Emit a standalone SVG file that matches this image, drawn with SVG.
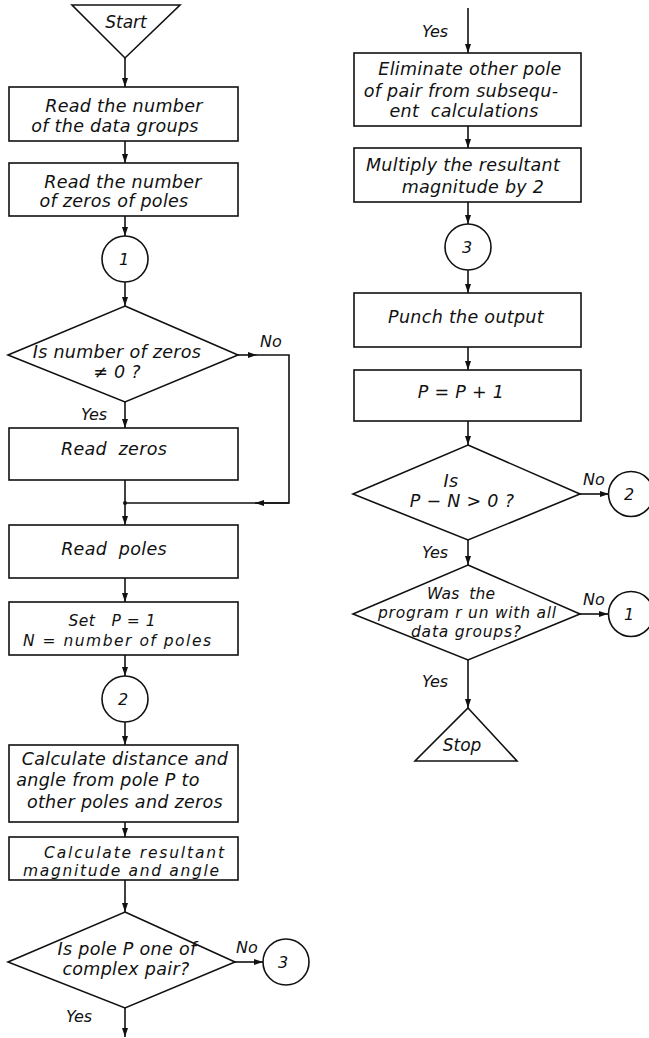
<svg xmlns="http://www.w3.org/2000/svg" width="649" height="1038" viewBox="0 0 649 1038">
<defs>
<style>
.s{fill:#fff;stroke:#111;stroke-width:1.6}
.t{font-family:"DejaVu Sans","Liberation Sans",sans-serif;font-style:italic;font-size:17.5px;letter-spacing:0.3px;fill:#111;text-anchor:middle}
.tt{font-family:"DejaVu Sans","Liberation Sans",sans-serif;font-style:italic;font-size:15.5px;fill:#111;text-anchor:middle}
.l{font-family:"DejaVu Sans","Liberation Sans",sans-serif;font-style:italic;font-size:16px;fill:#111;text-anchor:middle}
.c{fill:none;stroke:#111;stroke-width:1.6}
</style>
<marker id="a" viewBox="0 0 9 6" refX="9" refY="3" markerWidth="9" markerHeight="6" markerUnits="userSpaceOnUse" orient="auto">
<path d="M0,0 L9,3 L0,6 z" fill="#111"/>
</marker>
</defs>
<rect width="649" height="1038" fill="#fff"/>

<g id="connectors">
<path class="c" d="M125,58 V87" marker-end="url(#a)"/>
<path class="c" d="M125,141 V163" marker-end="url(#a)"/>
<path class="c" d="M125,216 V236" marker-end="url(#a)"/>
<path class="c" d="M125,282 V306" marker-end="url(#a)"/>
<path class="c" d="M125,402 V428" marker-end="url(#a)"/>
<path class="c" d="M238,355 H257" marker-end="url(#a)"/>
<path class="c" d="M257,355 H289 V503 H255"/>
<path class="c" d="M289,503 H255" marker-end="url(#a)"/>
<path class="c" d="M255,503 H125"/>
<circle cx="125" cy="503" r="2" fill="#111"/>
<path class="c" d="M125,480 V503"/>
<path class="c" d="M125,503 V525" marker-end="url(#a)"/>
<path class="c" d="M125,578 V602" marker-end="url(#a)"/>
<path class="c" d="M125,655 V676" marker-end="url(#a)"/>
<path class="c" d="M125,722 V745" marker-end="url(#a)"/>
<path class="c" d="M125,822 V837" marker-end="url(#a)"/>
<path class="c" d="M125,880 V912" marker-end="url(#a)"/>
<path class="c" d="M235,962 H263" marker-end="url(#a)"/>
<path class="c" d="M125,1008 V1037" marker-end="url(#a)"/>

<path class="c" d="M468,8 V53" marker-end="url(#a)"/>
<path class="c" d="M468,126 V148" marker-end="url(#a)"/>
<path class="c" d="M468,202 V224" marker-end="url(#a)"/>
<path class="c" d="M468,270 V293" marker-end="url(#a)"/>
<path class="c" d="M468,347 V370" marker-end="url(#a)"/>
<path class="c" d="M468,421 V445" marker-end="url(#a)"/>
<path class="c" d="M580,494 H609" marker-end="url(#a)"/>
<path class="c" d="M468,540 V565" marker-end="url(#a)"/>
<path class="c" d="M580,614 H608" marker-end="url(#a)"/>
<path class="c" d="M468,660 V708" marker-end="url(#a)"/>

<text class="l" x="271" y="347">No</text>
<text class="l" x="94" y="420">Yes</text>
<text class="l" x="247" y="953">No</text>
<text class="l" x="79" y="1022">Yes</text>
<text class="l" x="435" y="37">Yes</text>
<text class="l" x="594" y="485">No</text>
<text class="l" x="435" y="558">Yes</text>
<text class="l" x="594" y="605">No</text>
<text class="l" x="435" y="687">Yes</text>
</g>

<g id="start">
<polygon class="s" points="72,5 180,5 125,58"/>
<text class="l" x="126" y="28" style="font-size:17px">Start</text>
</g>
<g id="read-groups">
<rect class="s" x="9" y="87" width="229" height="54"/>
<text class="t" x="124" y="112">Read the number</text>
<text class="t" x="115" y="132">of the data groups</text>
</g>
<g id="read-number-zeros">
<rect class="s" x="9" y="163" width="229" height="53"/>
<text class="t" x="123" y="188">Read the number</text>
<text class="t" x="114" y="207">of zeros of poles</text>
</g>
<g id="conn1-left">
<circle class="s" cx="125" cy="259" r="23"/>
<text class="l" x="124" y="265">1</text>
</g>
<g id="dec-zeros">
<polygon class="s" points="125,306 238,355 125,402 8,355"/>
<text class="t" x="117" y="358">Is number of zeros</text>
<text class="t" x="117" y="378">≠ 0 ?</text>
</g>
<g id="read-zeros">
<rect class="s" x="9" y="428" width="229" height="52"/>
<text class="t" x="114" y="455" xml:space="preserve">Read  zeros</text>
</g>
<g id="read-poles">
<rect class="s" x="9" y="525" width="229" height="53"/>
<text class="t" x="114" y="555" xml:space="preserve">Read  poles</text>
</g>
<g id="set-p">
<rect class="s" x="9" y="602" width="229" height="53"/>
<text class="tt" x="112" y="626" textLength="87" lengthAdjust="spacing" xml:space="preserve">Set   P = 1</text>
<text class="tt" x="117" y="646" textLength="188" lengthAdjust="spacing">N = number of poles</text>
</g>
<g id="conn2-left">
<circle class="s" cx="125" cy="699" r="23"/>
<text class="l" x="123" y="705">2</text>
</g>
<g id="calc-distance">
<rect class="s" x="9" y="745" width="229" height="77"/>
<text class="t" x="125" y="765">Calculate distance and</text>
<text class="t" x="108" y="786">angle from pole P to</text>
<text class="t" x="125" y="808">other poles and zeros</text>
</g>
<g id="calc-resultant">
<rect class="s" x="9" y="837" width="229" height="43"/>
<text class="tt" x="134" y="858" textLength="180" lengthAdjust="spacing">Calculate resultant</text>
<text class="tt" x="121" y="876" textLength="196" lengthAdjust="spacing">magnitude and angle</text>
</g>
<g id="dec-complex">
<polygon class="s" points="125,912 235,962 125,1008 8,962"/>
<text class="t" x="127" y="955">Is pole P one of</text>
<text class="t" x="126" y="975">complex pair?</text>
</g>
<g id="conn3-left">
<circle class="s" cx="286" cy="962" r="23"/>
<text class="l" x="283" y="968">3</text>
</g>

<g id="eliminate">
<rect class="s" x="354" y="53" width="227" height="73"/>
<text class="t" x="470" y="75">Eliminate other pole</text>
<text class="t" x="461" y="97">of pair from subsequ-</text>
<text class="t" x="464" y="117" xml:space="preserve">ent  calculations</text>
</g>
<g id="multiply">
<rect class="s" x="354" y="148" width="227" height="54"/>
<text class="t" x="463" y="171">Multiply the resultant</text>
<text class="t" x="473" y="193">magnitude by 2</text>
</g>
<g id="conn3-right">
<circle class="s" cx="468" cy="247" r="23"/>
<text class="l" x="467" y="253">3</text>
</g>
<g id="punch">
<rect class="s" x="354" y="293" width="227" height="54"/>
<text class="t" x="466" y="323">Punch the output</text>
</g>
<g id="increment">
<rect class="s" x="354" y="370" width="227" height="51"/>
<text class="t" x="461" y="398">P = P + 1</text>
</g>
<g id="dec-pn">
<polygon class="s" points="468,445 580,494 468,540 353,494"/>
<text class="t" x="451" y="487">Is</text>
<text class="t" x="462" y="507">P − N &gt; 0 ?</text>
</g>
<g id="conn2-right">
<circle class="s" cx="631" cy="494" r="22.5"/>
<text class="l" x="629" y="500">2</text>
</g>
<g id="dec-all">
<polygon class="s" points="468,565 580,614 468,660 353,614"/>
<text class="tt" x="461" y="599" textLength="68" lengthAdjust="spacing" xml:space="preserve">Was  the</text>
<text class="tt" x="467" y="618" textLength="178" lengthAdjust="spacing">program r un with all</text>
<text class="tt" x="466" y="637" textLength="110" lengthAdjust="spacing">data groups?</text>
</g>
<g id="conn1-right">
<circle class="s" cx="631" cy="614" r="22.5"/>
<text class="l" x="629" y="620">1</text>
</g>
<g id="stop">
<polygon class="s" points="468,708 517,761 415,761"/>
<text class="l" x="462" y="751" style="font-size:17px">Stop</text>
</g>
</svg>
